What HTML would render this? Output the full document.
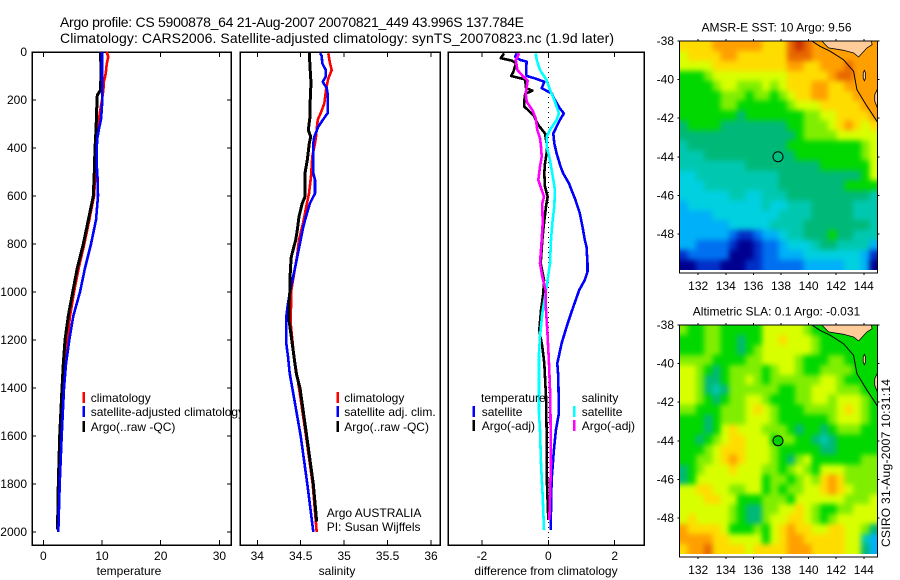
<!DOCTYPE html>
<html>
<head>
<meta charset="utf-8">
<title>Argo profile</title>
<style>
html,body{margin:0;padding:0;background:#fff;}
svg{display:block;}
text{font-family:"Liberation Sans",sans-serif;font-size:12px;fill:#000;}
</style>
</head>
<body>
<svg id="chart" xmlns="http://www.w3.org/2000/svg" width="900" height="580" viewBox="0 0 900 580">
<defs><filter id="map-smooth" x="-10%" y="-10%" width="120%" height="120%" color-interpolation-filters="sRGB"><feGaussianBlur stdDeviation="2.6"></feGaussianBlur></filter></defs>
<rect width="900" height="580" fill="#fff"></rect>
<text x="60" y="27" style="font-size:14px" textLength="464">Argo profile: CS 5900878_64 21-Aug-2007 20070821_449 43.996S 137.784E</text>
<text x="60" y="43" style="font-size:14px" textLength="554">Climatology: CARS2006. Satellite-adjusted climatology: synTS_20070823.nc (1.9d later)</text>
<text transform="translate(890,547) rotate(-90)" textLength="168">CSIRO 31-Aug-2007 10:31:14</text>
<g id="panels"></g>
<g id="maps"></g>
</svg>
<script>
// Axis ticks
var depthTicks = [0,200,400,600,800,1000,1200,1400,1600,1800,2000];
var tempTicks = [0,10,20,30];
var salTicks = [34,34.5,35,35.5,36];
var salTickLabels = ['34','34.5','35','35.5','36'];
var diffTicks = [-2,0,2];
var lonTicks = [132,134,136,138,140,142,144];
var latTicks = [-38,-40,-42,-44,-46,-48];

// Temperature panel
var tempClimDepth = [0,20,50,80,100,120,160,200,250,300,350,400,500,600,700,800,900,1000,1100,1200,1300,1400,1600,1800,2000];
var tempClimValue = [10.8,11.07,10.8,10.68,10.57,10.34,10.22,10,9.66,9.37,9.2,9.1,8.92,8.64,7.84,6.98,6.03,5.23,4.55,4.09,3.7,3.41,2.93,2.67,2.56];
var tempSatDepth = [0,100,200,250,280,320,360,400,500,530,600,700,800,900,1000,1100,1200,1300,1400,1600,1800,2000];
var tempSatValue = [10,10,10.05,9.94,9.83,9.49,9.2,9.1,9.15,9.27,9.32,8.98,8.13,7.1,6.25,5.11,4.43,3.87,3.53,3.13,2.79,2.55];
var tempArgoDepth = [0,100,160,180,200,280,340,400,500,600,700,800,900,1000,1100,1200,1300,1400,1600,1800,1990];
var tempArgoValue = [9.77,9.83,9.71,9.2,9.15,9.04,8.95,8.81,8.69,8.52,7.67,6.81,5.79,5,4.26,3.7,3.41,3.19,2.79,2.56,2.42];

// Salinity panel
var salClimDepth = [5,47,75,110,158,214,255,283,353,380,436,519,589,644,714,783,853,908,992,1130,1186,1269,1339,1400,1600,1800,2000];
var salClimValue = [34.817,34.837,34.857,34.817,34.791,34.771,34.73,34.695,34.676,34.664,34.633,34.618,34.595,34.564,34.526,34.48,34.457,34.431,34.391,34.385,34.4,34.423,34.454,34.48,34.561,34.638,34.684];
var salSatDepth = [5,16,47,75,103,124,150,172,255,270,311,353,380,505,533,589,630,686,728,783,853,920,992,1047,1103,1214,1269,1339,1400,1600,1800,2000];
var salSatValue = [34.722,34.742,34.748,34.787,34.787,34.753,34.799,34.81,34.81,34.78,34.702,34.656,34.645,34.645,34.664,34.664,34.607,34.561,34.53,34.5,34.46,34.423,34.38,34.354,34.334,34.334,34.354,34.373,34.403,34.5,34.576,34.645];
var salArgoDepth = [5,61,130,186,270,325,353,380,450,505,561,603,630,686,742,783,853,908,992,1047,1117,1186,1269,1339,1400,1600,1800,1957];
var salArgoValue = [34.599,34.607,34.618,34.61,34.607,34.587,34.615,34.599,34.576,34.549,34.549,34.549,34.518,34.48,34.46,34.442,34.391,34.38,34.377,34.365,34.365,34.391,34.423,34.449,34.492,34.569,34.645,34.684];

// Difference panel
var diffTempSatDepth = [6,19,33,40,68,89,100,110,124,151,172,200,235,256,283,311,339,381,422,478,506,547,617,672,728,783,811,881,916,950,992,1075,1145,1214,1297,1353,1506,1575,1658,1783,1992];
var diffTempSatValue = [-0.95,-1,-0.85,-0.65,-0.67,-0.67,-0.65,-0.4,-0.12,-0.2,0.1,0.2,0.35,0.47,0.35,0.25,0.15,0.18,0.25,0.37,0.45,0.62,0.82,0.95,1.03,1.1,1.15,1.18,1.18,1.1,0.93,0.72,0.55,0.4,0.27,0.3,0.32,0.23,0.17,0.1,0.07];
var diffTempArgoDepth = [6,26,36,47,68,82,100,114,151,161,175,200,228,263,304,339,381,422,464,506,561,603,644,714,783,881,950,1006,1075,1159,1228,1297,1436,1575,1798,1950];
var diffTempArgoValue = [-1.33,-1.43,-1.1,-0.97,-1.02,-1.05,-1.12,-0.7,-0.67,-0.48,-0.7,-0.72,-0.72,-0.45,-0.3,-0.1,-0.05,-0.05,-0.1,-0.12,-0.1,-0.02,-0.07,-0.13,-0.18,-0.23,-0.13,-0.15,-0.22,-0.27,-0.18,-0.12,-0.07,-0.05,-0.04,0];
var diffSalSatDepth = [6,33,75,117,158,200,256,283,325,353,394,436,506,575,644,714,783,881,950,1020,1089,1186,1256,1436,1506,1575,1714,1853,1992];
var diffSalSatValue = [-0.38,-0.35,-0.25,-0.05,0.05,0.18,0.32,0.25,0.05,-0.05,-0.05,0.03,0.12,0.2,0.18,0.12,0.08,0.05,-0.02,-0.1,-0.18,-0.25,-0.28,-0.28,-0.28,-0.25,-0.22,-0.17,-0.13];
var diffSalArgoDepth = [6,33,75,103,119,172,207,242,276,325,360,394,436,478,533,554,603,631,714,783,881,936,992,1075,1159,1297,1436,1575,1714,1853,1950];
var diffSalArgoValue = [-0.88,-0.98,-0.93,-0.75,-0.62,-0.68,-0.65,-0.48,-0.38,-0.33,-0.25,-0.22,-0.2,-0.25,-0.3,-0.25,-0.13,-0.18,-0.17,-0.2,-0.25,-0.18,-0.08,-0.07,-0.03,0.02,0.06,0.07,0.08,0.05,0.03];

// Map colour levels (low to high)
var levelColors = ['#000090','#0030c8','#0070f0','#00b0f8','#00d0e0','#00c8b0','#00b878','#00d800','#80ee00','#d8ff00','#ffdc00','#ffa000','#e86800','#c83000'];

// SST map grid, north to south
var sstGrid = [
[10,10,10,10,11,11,11,11,11,11,10,10,10,12,13,12,11,11,11,11,11,11,11,11],
[9,10,10,10,10,11,11,10,10,10,10,10,10,12,12,12,11,11,11,11,11,11,11,11],
[9,9,9,9,10,10,10,10,10,10,10,10,10,11,11,10,10,11,11,11,12,11,11,11],
[7,7,7,8,9,9,9,9,9,9,9,9,9,10,10,10,10,10,11,12,12,11,11,11],
[7,7,7,7,8,9,9,8,8,8,9,8,9,10,10,10,11,11,10,10,11,11,11,11],
[7,7,7,7,7,8,8,8,7,8,8,7,8,9,10,10,11,11,10,10,10,11,11,11],
[7,7,7,7,7,8,8,7,7,7,7,7,7,8,9,9,9,10,10,10,10,10,11,11],
[7,7,7,7,7,7,7,6,7,7,7,7,7,7,7,8,8,9,9,10,10,10,10,11],
[6,7,7,7,7,6,6,6,6,6,6,6,6,7,7,8,8,8,9,10,11,10,9,10],
[6,6,6,6,6,6,6,6,6,6,6,6,6,6,7,8,8,8,8,9,9,9,9,9],
[5,6,6,6,6,6,6,6,6,6,6,6,6,7,7,7,7,7,7,7,7,7,8,9],
[5,5,5,6,6,6,6,6,6,6,6,6,6,6,7,7,7,7,7,7,7,7,8,9],
[5,5,5,5,5,5,5,5,6,6,6,6,6,6,6,6,6,7,7,7,7,7,7,9],
[4,4,5,5,5,5,5,5,5,5,5,5,6,6,6,6,6,6,6,6,6,6,7,9],
[4,4,4,5,5,5,5,5,5,5,5,5,6,6,6,6,6,6,6,6,7,7,7,7],
[4,4,4,4,4,4,5,5,4,4,5,5,5,6,6,6,6,6,6,6,6,6,6,5],
[3,4,4,4,4,4,4,4,4,4,5,4,4,5,5,5,6,6,6,6,6,5,5,5],
[3,3,3,3,4,4,4,4,4,4,4,4,5,5,5,5,6,6,6,6,6,5,5,5],
[3,3,3,3,3,3,4,4,4,4,4,5,5,5,5,6,6,6,6,6,6,6,6,5],
[3,3,3,3,3,3,2,1,1,2,3,3,4,5,5,6,6,6,7,6,6,5,5,5],
[3,3,2,2,2,2,1,0,0,1,2,2,3,4,4,4,5,6,6,5,5,5,5,3],
[1,2,2,2,2,2,0,0,0,1,2,2,3,3,3,4,4,4,4,4,4,4,3,1],
[0,0,1,1,1,0,0,0,1,1,2,2,2,2,2,3,3,3,3,3,4,4,3,0]
];

// SLA map grid, north to south
var slaGrid = [
[8,7,7,8,8,7,7,7,7,7,9,9,9,9,9,8,7,7,7,7,7,7,7,7],
[7,7,7,8,8,7,7,6,7,7,9,9,10,9,9,9,8,7,7,7,7,7,7,7],
[7,7,7,8,8,7,7,6,7,8,9,9,9,9,9,9,8,7,7,7,7,7,7,7],
[8,8,8,8,7,7,7,7,8,8,9,9,9,9,8,7,7,7,8,8,7,7,7,7],
[9,9,8,7,6,7,8,8,8,8,7,8,9,9,8,7,7,8,8,8,8,7,7,7],
[9,9,8,6,6,7,8,8,9,8,7,8,8,8,8,8,8,9,9,8,7,7,7,7],
[9,9,8,6,5,6,8,8,8,8,8,8,7,7,8,8,9,9,9,8,8,8,7,7],
[9,9,8,7,6,7,8,8,9,9,8,7,7,7,8,8,9,9,8,9,9,9,8,7],
[8,8,7,7,7,8,8,8,9,10,9,8,7,7,7,8,8,8,8,9,10,9,8,7],
[7,7,7,6,7,8,8,8,9,9,9,8,7,7,7,7,7,7,8,9,9,9,8,7],
[7,7,7,6,7,9,10,9,9,9,8,8,8,7,6,7,7,6,7,8,8,8,7,7],
[7,7,6,7,8,9,10,10,9,9,9,7,8,8,7,7,6,5,6,7,7,7,7,7],
[7,7,7,8,9,10,10,10,9,9,9,8,7,7,7,7,7,6,6,7,7,7,7,7],
[7,7,8,8,9,10,11,10,9,9,9,8,7,6,8,9,7,7,7,7,7,7,8,8],
[6,7,8,9,9,9,10,9,9,9,8,8,7,8,9,8,7,9,9,9,8,8,8,8],
[6,7,9,9,9,9,9,9,9,9,7,8,8,7,8,9,8,10,11,10,8,8,8,8],
[9,9,10,10,9,9,8,8,9,9,7,8,7,8,8,9,9,10,11,10,9,8,8,8],
[9,9,9,10,10,9,9,7,7,7,8,8,8,7,9,9,9,9,9,9,8,8,8,9],
[9,9,9,9,9,9,8,7,6,6,8,8,9,9,10,9,8,7,7,8,8,9,9,9],
[9,10,9,9,9,9,8,7,6,6,8,9,9,10,10,9,8,7,8,9,9,9,9,9],
[11,10,10,10,10,9,7,7,7,8,7,9,10,11,10,10,9,9,10,10,9,9,8,6],
[11,11,11,11,10,10,9,9,9,9,7,9,10,11,11,10,10,10,10,10,9,9,5,3],
[10,11,11,12,10,10,10,10,9,10,10,10,10,11,11,11,10,10,10,10,9,9,6,3]
];

// Geography in lon / lat
var shelfLon = [140.23,140.84,141.56,142.53,143.26,143.5,144.23,145.03];
var shelfLat = [-38,-38.28,-38.53,-38.97,-39.57,-40.52,-41.38,-42.24];
var mainlandLon = [140.96,141.44,142.53,143.26,143.62,144.23,144.6,144.55];
var mainlandLat = [-38,-38.36,-38.48,-38.62,-38.83,-38.36,-38.19,-38];
var kingIslandLon = [144.04,144.12,144.12,144.04,143.96,143.96];
var kingIslandLat = [-39.52,-39.65,-39.93,-40.06,-39.93,-39.65];
var tasmaniaLon = [145.03,144.79,144.79,145.03];
var tasmaniaLat = [-40.43,-40.78,-41.12,-41.55];
var floatLon = 137.784;
var floatLat = -43.996;

var NS = 'http://www.w3.org/2000/svg';
var panelsLayer = document.getElementById('panels');
var mapsLayer = document.getElementById('maps');

function mk(parent, tag, attrs, txt) {
  var el = document.createElementNS(NS, tag);
  for (var k in attrs) el.setAttribute(k, attrs[k]);
  if (txt !== undefined) el.textContent = txt;
  parent.appendChild(el);
  return el;
}

// Axis functions
function depthY(d) { return 52 + d * 0.24; }
function tempX(v) { return 43.3 + v * 5.87; }
function salX(v) { return 257.3 + (v - 34) * 86.85; }
function diffX(v) { return 548.3 + v * 33.2; }
function lonX(v) { return 781 + (v - 138) * 13.8; }
function latY(v, top) { return top + (-38 - v) * 19.3; }

function pointsFrom(xs, ys, fx, fy) {
  var out = [];
  for (var i = 0; i < xs.length; i++) out.push(fx(xs[i]).toFixed(1) + ',' + fy(ys[i]).toFixed(1));
  return out.join(' ');
}

function drawPanel(name, left, right, xTicks, xLabels, xFn, xTitle, titleX, withDepth) {
  var g = mk(panelsLayer, 'g', {});
  
  
  var frame = mk(g, 'rect', {x: left, y: 52, width: right - left, height: 493, fill: '#fff', stroke: '#000', 'stroke-width': 1.5, 'shape-rendering': 'crispEdges'});
  
  
  xTicks.forEach(function (t, i) {
    var x = xFn(t);
    var top = mk(g, 'line', {x1: x, x2: x, y1: 52, y2: 57, stroke: '#000', 'stroke-width': 1, 'shape-rendering': 'crispEdges'});
    
    
    var bottom = mk(g, 'line', {x1: x, x2: x, y1: 540, y2: 545, stroke: '#000', 'stroke-width': 1, 'shape-rendering': 'crispEdges'});
    
    
    var lab = mk(g, 'text', {x: x, y: 560, 'text-anchor': 'middle'}, xLabels[i]);
    
    
  });
  var title = mk(g, 'text', {x: titleX, y: 575, 'text-anchor': 'middle'}, xTitle);
  
  
  if (withDepth) {
    depthTicks.forEach(function (d) {
      var y = depthY(d);
      var l = mk(g, 'line', {x1: left, x2: left + 4, y1: y, y2: y, stroke: '#000', 'stroke-width': 1, 'shape-rendering': 'crispEdges'});
      
      
      var r = mk(g, 'line', {x1: right - 4, x2: right, y1: y, y2: y, stroke: '#000', 'stroke-width': 1, 'shape-rendering': 'crispEdges'});
      
      
      var lab = mk(g, 'text', {x: 27, y: y + 4, 'text-anchor': 'end'}, String(d));
      
      
    });
  }
  return g;
}

function drawSeries(g, name, xs, ds, fn, color, width) {
  var line = mk(g, 'polyline', {points: pointsFrom(xs, ds, fn, depthY), fill: 'none', stroke: color, 'stroke-width': width, 'shape-rendering': 'crispEdges', 'stroke-linejoin': 'round'});
  
  
}

function drawLegend(g, name, lineX, textX, y, color, label) {
  if (color) {
    var s = mk(g, 'line', {x1: lineX, x2: lineX, y1: y - 6, y2: y + 5, stroke: color, 'stroke-width': 2.5, 'shape-rendering': 'crispEdges'});
    
    
  }
  var t = mk(g, 'text', {x: textX, y: y + 4}, label);
  
  
}

// Temperature panel
var pTemp = drawPanel('temperature', 32, 231, tempTicks, tempTicks.map(String), tempX, 'temperature', 129, true);
drawSeries(pTemp, 'temperature-climatology-line', tempClimValue, tempClimDepth, tempX, '#ff0000', 2.6);
drawSeries(pTemp, 'temperature-argo-line', tempArgoValue, tempArgoDepth, tempX, '#000000', 3);
drawSeries(pTemp, 'temperature-satellite-line', tempSatValue, tempSatDepth, tempX, '#0000ff', 2.6);
drawLegend(pTemp, 'legend-climatology', 83.7, 90.7, 398, '#ff0000', 'climatology');
drawLegend(pTemp, 'legend-satellite-adjusted', 83.7, 90.7, 412, '#0000ff', 'satellite-adjusted climatology');
drawLegend(pTemp, 'legend-argo', 83.7, 90.7, 427, '#000000', 'Argo(..raw -QC)');

// Salinity panel
var pSal = drawPanel('salinity', 240, 440, salTicks, salTickLabels, salX, 'salinity', 337, false);
drawSeries(pSal, 'salinity-climatology-line', salClimValue, salClimDepth, salX, '#ff0000', 2.6);
drawSeries(pSal, 'salinity-satellite-line', salSatValue, salSatDepth, salX, '#0000ff', 2.6);
drawSeries(pSal, 'salinity-argo-line', salArgoValue, salArgoDepth, salX, '#000000', 3);
drawLegend(pSal, 'salinity-legend-climatology', 337.7, 344.3, 398, '#ff0000', 'climatology');
drawLegend(pSal, 'salinity-legend-satellite', 337.7, 344.3, 412, '#0000ff', 'satellite adj. clim.');
drawLegend(pSal, 'salinity-legend-argo', 337.7, 344.3, 427, '#000000', 'Argo(..raw -QC)');
var note1 = mk(pSal, 'text', {x: 326.7, y: 517}, 'Argo AUSTRALIA');


var note2 = mk(pSal, 'text', {x: 326.7, y: 531}, 'PI: Susan Wijffels');



// Difference panel
var pDiff = drawPanel('difference', 448, 644, diffTicks, diffTicks.map(String), diffX, 'difference from climatology', 546, false);
var zero = mk(pDiff, 'line', {x1: diffX(0), x2: diffX(0), y1: 52, y2: 545, stroke: '#000', 'stroke-width': 1, 'stroke-dasharray': '1 4', 'shape-rendering': 'crispEdges'});


drawSeries(pDiff, 'difference-temperature-satellite-line', diffTempSatValue, diffTempSatDepth, diffX, '#0000ff', 2.6);
drawSeries(pDiff, 'difference-temperature-argo-line', diffTempArgoValue, diffTempArgoDepth, diffX, '#000000', 2.6);
drawSeries(pDiff, 'difference-salinity-satellite-line', diffSalSatValue, diffSalSatDepth, diffX, '#00ffff', 2.6);
drawSeries(pDiff, 'difference-salinity-argo-line', diffSalArgoValue, diffSalArgoDepth, diffX, '#ff00ff', 2.6);
drawLegend(pDiff, 'difference-legend-temperature-heading', 0, 481, 398, null, 'temperature');
drawLegend(pDiff, 'difference-legend-temperature-satellite', 473.7, 481.7, 412, '#0000ff', 'satellite');
drawLegend(pDiff, 'difference-legend-temperature-argo', 473.7, 481.7, 426, '#000000', 'Argo(-adj)');
drawLegend(pDiff, 'difference-legend-salinity-heading', 0, 581.7, 398, null, 'salinity');
drawLegend(pDiff, 'difference-legend-salinity-satellite', 574, 581.7, 412, '#00ffff', 'satellite');
drawLegend(pDiff, 'difference-legend-salinity-argo', 574, 581.7, 426, '#ff00ff', 'Argo(-adj)');

// Maps
function drawMap(name, grid, top, titleText, markerFill) {
  var left = 679.3, right = 877.7;
  var g = mk(mapsLayer, 'g', {});
  
  
  var clipId = name + '-clip';
  var cellClipId = name + '-cell-clip';
  var defs = mk(g, 'defs', {});
  var cp = mk(defs, 'clipPath', {id: clipId});
  mk(cp, 'rect', {x: left, y: top, width: right - left, height: 232});
  var cellCp = mk(defs, 'clipPath', {id: cellClipId});
  mk(cellCp, 'rect', {x: left, y: top, width: right - left, height: 229});
  var rows = grid.length, cols = grid[0].length;
  var cellW = (right - left) / cols;
  var cellH = 229 / rows;
  var pad = 12;
  var cellClip = mk(g, 'g', {'clip-path': 'url(#' + cellClipId + ')'});
  var cellGroup = mk(cellClip, 'g', {filter: 'url(#map-smooth)'});
  
  
  for (var r = 0; r < rows; r++) {
    for (var c = 0; c < cols; c++) {
      var x0 = left + c * cellW - (c === 0 ? pad : 0);
      var x1 = left + (c + 1) * cellW + (c === cols - 1 ? pad : 0.6);
      var y0 = top + r * cellH - (r === 0 ? pad : 0);
      var y1 = top + (r + 1) * cellH + (r === rows - 1 ? pad : 0.6);
      var cell = mk(cellGroup, 'rect', {x: x0.toFixed(1), y: y0.toFixed(1), width: (x1 - x0).toFixed(1), height: (y1 - y0).toFixed(1), fill: levelColors[grid[r][c]], 'shape-rendering': 'crispEdges'});
      
      
    }
  }
  var fy = function (v) { return latY(v, top); };
  var geo = mk(g, 'g', {'clip-path': 'url(#' + clipId + ')'});
  var land = mk(geo, 'polygon', {points: pointsFrom(mainlandLon, mainlandLat, lonX, fy), fill: '#ffcc99', stroke: '#000', 'stroke-width': 0.8});
  
  
  var island = mk(geo, 'polygon', {points: pointsFrom(kingIslandLon, kingIslandLat, lonX, fy), fill: '#ffcc99', stroke: '#000', 'stroke-width': 0.8});
  
  
  var tas = mk(geo, 'polygon', {points: pointsFrom(tasmaniaLon, tasmaniaLat, lonX, fy), fill: '#ffcc99', stroke: '#000', 'stroke-width': 0.8});
  
  
  var shelf = mk(geo, 'polyline', {points: pointsFrom(shelfLon, shelfLat, lonX, fy), fill: 'none', stroke: '#000', 'stroke-width': 1});
  
  
  var frame = mk(g, 'rect', {x: left, y: top, width: right - left, height: 232, fill: 'none', stroke: '#000', 'stroke-width': 1, 'shape-rendering': 'crispEdges'});
  
  
  lonTicks.forEach(function (t) {
    var x = lonX(t);
    var a = mk(g, 'line', {x1: x, x2: x, y1: top - 2, y2: top, stroke: '#000', 'stroke-width': 1, 'shape-rendering': 'crispEdges'});
    
    
    var b = mk(g, 'line', {x1: x, x2: x, y1: top + 232, y2: top + 234, stroke: '#000', 'stroke-width': 1, 'shape-rendering': 'crispEdges'});
    
    
    var lab = mk(g, 'text', {x: x, y: top + 249, 'text-anchor': 'middle'}, String(t));
    
    
  });
  latTicks.forEach(function (t) {
    var y = fy(t);
    var a = mk(g, 'line', {x1: left - 2, x2: left, y1: y, y2: y, stroke: '#000', 'stroke-width': 1, 'shape-rendering': 'crispEdges'});
    
    
    var b = mk(g, 'line', {x1: right, x2: right + 2, y1: y, y2: y, stroke: '#000', 'stroke-width': 1, 'shape-rendering': 'crispEdges'});
    
    
    var lab = mk(g, 'text', {x: 674, y: y + 4, 'text-anchor': 'end'}, String(t));
    
    
  });
  var marker = mk(g, 'circle', {cx: lonX(floatLon), cy: fy(floatLat), r: 5, fill: markerFill, stroke: '#000', 'stroke-width': 1});
  
  
  var title = mk(g, 'text', {x: 776.5, y: top - 9.5, 'text-anchor': 'middle'}, titleText);
  
  
}

drawMap('sst', sstGrid, 41, 'AMSR-E SST: 10 Argo: 9.56', '#00c080');
drawMap('sla', slaGrid, 325, 'Altimetric SLA: 0.1 Argo: -0.031', '#00d000');
</script>
</body>
</html>
